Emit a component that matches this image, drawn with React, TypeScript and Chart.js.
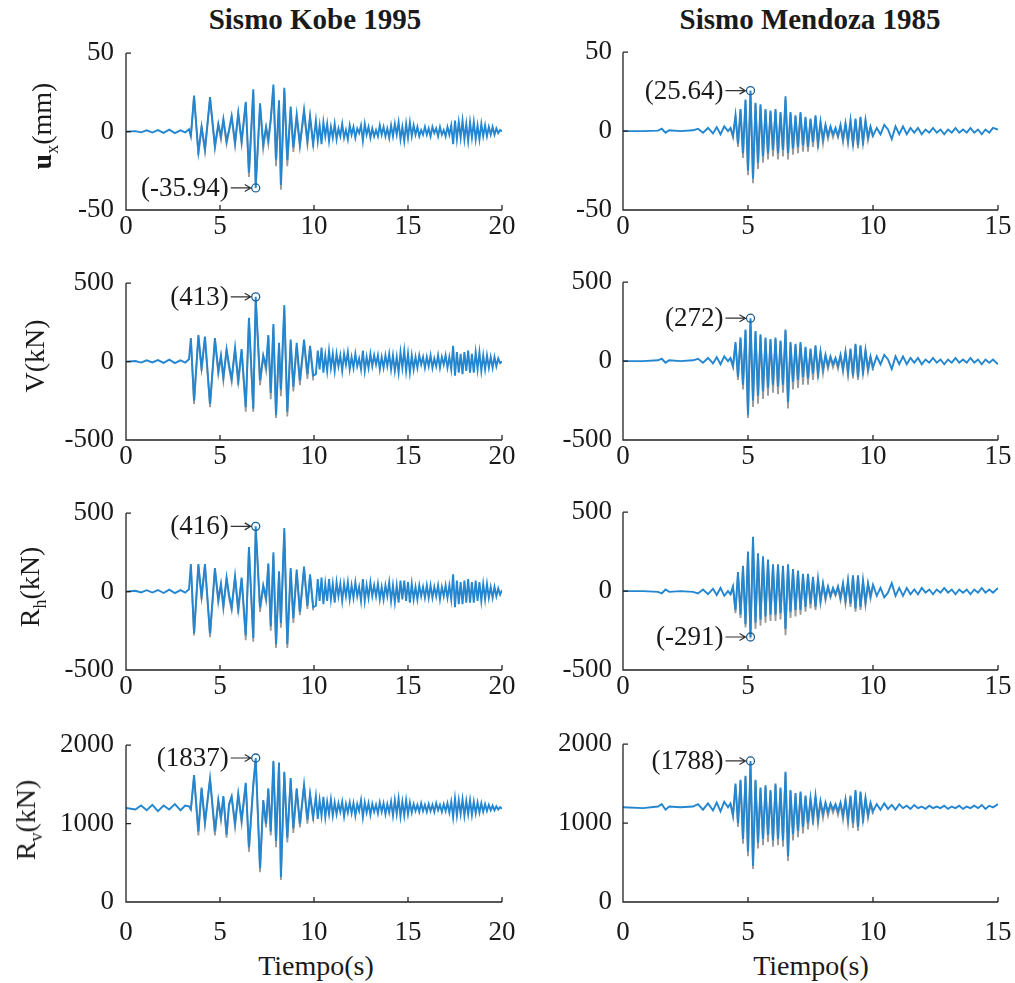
import React, { useEffect, useRef } from 'react';
import { Chart, registerables } from 'chart.js';

Chart.register(...registerables);

// ---------------- DATA ----------------
const xTicksKobe = [0, 5, 10, 15, 20];
const xTicksMendoza = [0, 5, 10, 15];

const kobeTime = [
  0, 0.5, 0.8, 1.1, 1.4, 1.7, 2.0, 2.3, 2.6, 2.9, 3.15, 3.35,
  3.45, 3.62, 3.85, 4.02, 4.2, 4.47, 4.73, 4.91, 5.05, 5.18, 5.35, 5.48, 5.62, 5.8, 5.97, 6.15, 6.37, 6.54, 6.77, 6.9,
  7.13, 7.3, 7.45, 7.57, 7.7, 7.84, 7.98, 8.14, 8.24, 8.42, 8.58, 8.76, 8.9, 9.08, 9.25, 9.47, 9.65, 9.79, 9.96,
  10.1, 10.2, 10.3, 10.4, 10.5, 10.6, 10.7, 10.8, 10.9, 11.0,
  11.1, 11.2, 11.3, 11.4, 11.5, 11.6, 11.7, 11.8, 11.9, 12.0,
  12.1, 12.2, 12.3, 12.4, 12.5, 12.6, 12.7, 12.8, 12.9, 13.0,
  13.1, 13.2, 13.3, 13.4, 13.5, 13.6, 13.7, 13.8, 13.9, 14.0,
  14.1, 14.2, 14.3, 14.4, 14.5, 14.6, 14.7, 14.8, 14.9, 15.0,
  15.1, 15.2, 15.3, 15.4, 15.5, 15.6, 15.7, 15.8, 15.9, 16.0,
  16.1, 16.2, 16.3, 16.4, 16.5, 16.6, 16.7, 16.8, 16.9, 17.0,
  17.1, 17.2, 17.3, 17.4, 17.5, 17.6, 17.7, 17.8, 17.9, 18.0,
  18.1, 18.2, 18.3, 18.4, 18.5, 18.6, 18.7, 18.8, 18.9, 19.0,
  19.1, 19.2, 19.3, 19.4, 19.5, 19.6, 19.7, 19.8, 19.9, 20.0,
];

const kobeUx = [
  0, 0.3, -0.5, 0.8, -0.6, 1.0, -0.8, 1.2, -1.0, 0.8, -0.5, 1.5,
  -3, 23, -13, 3, -11, 22, -9, 5, -3, 8, -6, 1, 10, -7, 12, -6, 19, -26, 27, -35.94,
  18, -8, 3, -5, 8, 30, -18, 20, -34, 28, -18, 16, -10, 11, -8, 14, -6, 10, -8,
  7, -6, 4, -8, 6, -3, 5, -6, 3, -4,
  5, -5, 2, -3, 5, -4, 1, -5, 4, -2,
  3, -4, 2, -1, 4, -6, 5, -2, 3, -4,
  2, -3, 1, -3, 4, -2, 3, -3, 2, -4,
  4, -3, 5, -2, 6, -5, 3, -6, 5, -4,
  6, -3, 4, -2, 3, -3, 1, -2, 3, -2,
  2, -3, 3, -1, 2, -3, 3, -2, 1, -3,
  3, -2, 4, -8, 7, -5, 6, -4, 7, -5,
  5, -6, 6, -4, 6, -5, 4, -5, 5, -3,
  4, -3, 3, -2, 3, -2, 2, -1, 1, 0,
];

const kobeV = [
  0, 4, -6, 8, -5, 10, -8, 12, -10, 8, -6, 15,
  150, -250, 170, -40, 160, -270, 150, -60, 40, -100, 80, -20, -110, 90, -120, 80, -290, 280, -300, 413,
  -120, 40, -30, 170, -200, 240, -340, 120, -180, 360, -320, 140, -160, 120, -120, 140, -80, 100, -90,
  -80, 70, -50, 90, -70, 40, -60, 70, -40, 50,
  -60, 50, -30, 40, -60, 50, -20, 60, -50, 30,
  -40, 50, -30, 20, -50, 70, -60, 30, -40, 50,
  -30, 40, -20, 40, -50, 30, -40, 40, -30, 50,
  -50, 40, -60, 30, -70, 60, -40, 70, -60, 50,
  -70, 40, -50, 30, -40, 40, -20, 30, -40, 30,
  -30, 40, -40, 20, -30, 40, -40, 30, -20, 40,
  -40, 30, -50, 100, -90, 60, -70, 50, -80, 60,
  -60, 70, -70, 50, -70, 60, -50, 60, -60, 40,
  -50, 40, -40, 30, -40, 30, -30, 20, -10, 0,
];

const kobeRh = [
  0, 5, -5, 9, -6, 10, -9, 12, -10, 9, -7, 15,
  175, -266, 175, -30, 175, -266, 150, -50, 50, -90, 90, -20, -100, 100, -110, 90, -280, 284, -296, 416,
  -100, 40, -40, 180, -220, 250, -336, 130, -200, 405, -336, 150, -170, 140, -130, 160, -90, 110, -100,
  -90, 80, -60, 90, -80, 50, -60, 80, -50, 50,
  -70, 60, -30, 50, -60, 50, -30, 60, -50, 40,
  -40, 60, -30, 30, -60, 80, -60, 40, -40, 60,
  -30, 40, -30, 50, -50, 30, -50, 40, -30, 60,
  -60, 40, -70, 40, -70, 70, -50, 70, -60, 60,
  -70, 50, -50, 30, -50, 40, -30, 30, -40, 40,
  -40, 40, -40, 30, -30, 40, -50, 30, -30, 40,
  -40, 40, -50, 110, -100, 70, -80, 60, -80, 70,
  -70, 80, -70, 60, -70, 70, -60, 60, -60, 50,
  -50, 50, -40, 30, -40, 30, -30, 20, -20, 10,
];

const kobeRv = [
  1200, 1180, 1230, 1170, 1240, 1160, 1230, 1180, 1250, 1170, 1230, 1220,
  1180, 1620, 900, 1460, 1020, 1580, 900, 1300, 1080, 1350, 860, 1250, 1350, 1000, 1380, 1050, 1520, 700, 1500, 1837,
  430, 1300, 1000, 1450, 900, 1800, 780, 1780, 320, 1660, 820, 1580, 940, 1450, 1000, 1500, 1050, 1380, 1080,
  1350, 1060, 1300, 1100, 1340, 1080, 1280, 1120, 1310, 1100,
  1270, 1120, 1260, 1150, 1280, 1090, 1250, 1140, 1270, 1130,
  1260, 1100, 1250, 1160, 1300, 1080, 1270, 1140, 1260, 1110,
  1250, 1150, 1240, 1130, 1270, 1150, 1260, 1120, 1250, 1140,
  1280, 1100, 1300, 1120, 1320, 1090, 1280, 1100, 1300, 1120,
  1270, 1140, 1250, 1160, 1240, 1150, 1260, 1160, 1240, 1150,
  1250, 1160, 1240, 1150, 1260, 1170, 1240, 1150, 1250, 1160,
  1260, 1140, 1280, 1080, 1320, 1100, 1300, 1120, 1310, 1100,
  1290, 1120, 1300, 1110, 1280, 1130, 1270, 1140, 1260, 1150,
  1250, 1160, 1240, 1170, 1230, 1170, 1220, 1180, 1210, 1190,
];

// second (gray) response, strong-motion part of the Kobe record
const kobeGrayTime = [
  3.45, 3.62, 3.85, 4.02, 4.2, 4.47, 4.73, 4.91, 5.05, 5.18, 5.35, 5.48, 5.62, 5.8, 5.97, 6.15, 6.37, 6.54, 6.77, 6.9,
  7.13, 7.3, 7.45, 7.57, 7.7, 7.84, 7.98, 8.14, 8.24, 8.42, 8.58, 8.76, 8.9, 9.08, 9.25, 9.47, 9.65, 9.79, 9.96,
];
const kobeGrayUx = [
  -3, 22, -15, 3, -13, 21, -11, 4, -5, 7, -8, 0, 9, -9, 11, -8, 18, -29, 25, -34,
  16, -11, 2, -8, 7, 28, -22, 18, -37, 26, -22, 14, -13, 9, -10, 12, -8, 9, -10,
];
const kobeGrayV = [
  140, -270, 160, -60, 150, -290, 140, -80, 30, -120, 70, -40, -130, 80, -150, 70, -320, 260, -320, 390,
  -150, 30, -60, 160, -240, 220, -360, 100, -220, 330, -350, 120, -190, 100, -150, 120, -110, 90, -120,
];
const kobeGrayRh = [
  165, -280, 165, -50, 165, -290, 140, -70, 40, -110, 80, -40, -120, 90, -140, 80, -310, 270, -320, 395,
  -130, 30, -60, 170, -250, 230, -360, 110, -230, 380, -360, 130, -200, 120, -150, 140, -110, 100, -120,
];
const kobeGrayRv = [
  1170, 1600, 850, 1440, 980, 1560, 850, 1280, 1040, 1330, 820, 1230, 1330, 960, 1360, 1000, 1500, 640, 1480, 1800,
  380, 1280, 950, 1430, 850, 1780, 700, 1760, 280, 1640, 760, 1560, 880, 1430, 950, 1480, 1000, 1360, 1030,
];

const mendozaTime = [
  0, 0.8, 1.4, 1.55, 1.7, 1.85, 2.3, 2.8, 3.0, 3.2, 3.4, 3.6, 3.75, 3.9, 4.05, 4.2,
  4.3, 4.4, 4.5, 4.6, 4.7, 4.8, 4.9, 5.0, 5.1, 5.2, 5.3, 5.4, 5.5, 5.6, 5.7, 5.8, 5.9, 6.0, 6.1, 6.2,
  6.3, 6.4, 6.5, 6.6, 6.7, 6.8, 6.9, 7.0, 7.1, 7.2, 7.3, 7.4, 7.5, 7.6, 7.7, 7.8, 7.9, 8.0, 8.1, 8.2,
  8.3, 8.4, 8.5, 8.6, 8.7, 8.8, 8.9, 9.0, 9.1, 9.2, 9.3, 9.4, 9.5, 9.6, 9.7, 9.8, 9.9, 10.0,
  10.15, 10.3, 10.45, 10.6, 10.75, 10.9, 11.05, 11.2, 11.35, 11.5, 11.65, 11.8, 11.95, 12.1, 12.25, 12.4,
  12.55, 12.7, 12.85, 13.0, 13.15, 13.3, 13.45, 13.6, 13.75, 13.9, 14.05, 14.2, 14.35, 14.5, 14.65, 14.8, 15.0,
];

const mendozaUx = [
  0, 0, 0.3, 1.5, -1, 0.5, 0, 0.5, 1.5, -1, 2, -1.5, 2.5, -2, 3, 0,
  2, -3, 10, -8, 14, -14, 20, -25, 25.64, -30, 18, -20, 17, -16, 14, -14, 13, -12, 14, -14,
  12, -12, 22, -14, 12, -11, 10, -10, 12, -9, 9, -10, 8, -7, 10, -8, 6, -5, 4, -3,
  3, -2, 2, -3, 4, -5, 5, -6, 7, -8, 8, -9, 9, -7, 7, -4, 3, -3,
  2, -2, 4, 1, -5, 3, -2, 3, -2, 2, -1, 2, -2, 1, -1, 2,
  -1, 1, -2, 1, -1, 2, -1, 1, -1, 2, -1, 1, -2, 1, -1, 2, 1,
];

const mendozaV = [
  0, 0, 5, 15, -10, 5, 0, 5, 15, -10, 20, -15, 25, -20, 30, 0,
  20, -30, 120, -100, 150, -150, 200, -340, 272, -250, 190, -220, 170, -190, 150, -170, 140, -150, 150, -160,
  130, -150, 200, -260, 120, -130, 110, -120, 120, -100, 90, -110, 80, -80, 100, -80, 60, -50, 40, -30,
  30, -20, 20, -30, 40, -50, 60, -70, 80, -90, 110, -100, 100, -70, 70, -50, 30, -40,
  30, -20, 40, 10, -50, 30, -20, 30, -20, 20, -10, 20, -20, 10, -10, 20,
  -10, 10, -20, 10, -10, 20, -10, 10, -10, 20, -10, 10, -20, 10, -10, 10, -20,
];

const mendozaRh = [
  0, 0, -5, -15, 10, -5, 0, -5, -15, 10, -20, 15, -25, 20, -30, 0,
  -20, 30, -120, 120, -150, 160, -210, 250, -291, 344, -200, 240, -180, 220, -160, 200, -150, 170, -150, 170,
  -140, 160, -240, 170, -130, 140, -120, 130, -120, 110, -100, 110, -80, 90, -100, 80, -60, 50, -40, 30,
  -30, 20, -20, 30, -40, 50, -60, 70, -80, 100, -110, 100, -100, 70, -70, 50, -30, 40,
  -30, 20, -40, -10, 50, -30, 20, -30, 20, -20, 10, -20, 20, -10, 10, -20,
  10, -10, 20, -10, 10, -20, 10, -10, 10, -20, 10, -10, 20, -10, 10, -10, 20,
];

const mendozaRv = [
  1200, 1190, 1210, 1240, 1170, 1210, 1200, 1210, 1240, 1170, 1250, 1160, 1260, 1150, 1270, 1200,
  1250, 1100, 1500, 1000, 1550, 800, 1600, 640, 1788, 460, 1550, 750, 1450, 800, 1480, 850, 1420, 780, 1500, 800,
  1450, 780, 1650, 580, 1420, 860, 1380, 900, 1400, 950, 1350, 1000, 1320, 1050, 1350, 1050, 1280, 1120, 1260, 1140,
  1250, 1170, 1240, 1150, 1260, 1100, 1300, 1050, 1350, 1000, 1420, 950, 1400, 1050, 1320, 1100, 1260, 1150,
  1240, 1170, 1250, 1180, 1230, 1170, 1240, 1190, 1220, 1180, 1230, 1190, 1210, 1180, 1220, 1190,
  1210, 1190, 1220, 1180, 1210, 1190, 1220, 1180, 1210, 1190, 1220, 1190, 1230, 1180, 1220, 1200, 1240,
];

const mendozaGrayTime = [
  4.3, 4.4, 4.5, 4.6, 4.7, 4.8, 4.9, 5.0, 5.1, 5.2, 5.3, 5.4, 5.5, 5.6, 5.7, 5.8, 5.9, 6.0, 6.1, 6.2,
  6.3, 6.4, 6.5, 6.6, 6.7, 6.8, 6.9, 7.0, 7.1, 7.2, 7.3, 7.4, 7.5, 7.6, 7.7, 7.8, 7.9, 8.0, 8.1, 8.2,
  8.3, 8.4, 8.5, 8.6, 8.7, 8.8, 8.9, 9.0, 9.1, 9.2, 9.3, 9.4, 9.5, 9.6, 9.7, 9.8, 9.9, 10.0,
];
const mendozaGrayUx = [
  2, -4, 9, -10, 13, -17, 19, -28, 24, -33, 17, -24, 16, -20, 13, -18, 12, -16, 13, -18,
  11, -16, 20, -18, 11, -15, 9, -14, 11, -13, 8, -13, 7, -10, 9, -11, 5, -8, 3, -5,
  2, -4, 1, -4, 3, -7, 4, -8, 6, -10, 7, -11, 8, -9, 6, -6, 2, -4,
];
const mendozaGrayV = [
  15, -40, 110, -120, 140, -180, 190, -360, 260, -290, 180, -270, 160, -240, 140, -220, 130, -200, 140, -210,
  120, -200, 190, -300, 110, -180, 100, -170, 110, -150, 80, -150, 70, -120, 90, -110, 50, -80, 30, -50,
  20, -40, 10, -50, 30, -70, 50, -90, 70, -110, 100, -120, 90, -90, 60, -70, 20, -60,
];
const mendozaGrayRh = [
  -25, 25, -140, 110, -170, 150, -230, 240, -300, 330, -240, 230, -220, 210, -200, 190, -190, 160, -190, 160,
  -180, 150, -280, 160, -170, 130, -160, 120, -150, 100, -130, 100, -110, 80, -120, 70, -80, 40, -60, 20,
  -40, 10, -30, 20, -60, 40, -80, 60, -100, 90, -130, 90, -120, 60, -90, 40, -50, 30,
];
const mendozaGrayRv = [
  1240, 1080, 1480, 950, 1530, 740, 1580, 580, 1760, 420, 1530, 680, 1430, 720, 1460, 760, 1400, 700, 1480, 720,
  1430, 700, 1630, 520, 1400, 780, 1360, 820, 1380, 870, 1330, 920, 1300, 980, 1330, 990, 1260, 1060, 1240, 1090,
  1230, 1130, 1220, 1100, 1240, 1040, 1280, 990, 1330, 940, 1400, 900, 1380, 1000, 1300, 1060, 1240, 1110,
];

// peak values marked with data tips
const kobePeakTime = 6.9;
const kobePeaks = [-35.94, 413, 416, 1837];
const mendozaPeakTime = 5.1;
const mendozaPeaks = [25.64, 272, -291, 1788];

// y-axis ranges per row: [min, max, step]
const yRanges = [
  [-50, 50, 50],
  [-500, 500, 500],
  [-500, 500, 500],
  [0, 2000, 1000],
];

// ---------------- LAYOUT / STYLE ----------------
const FONT = '"Liberation Serif", "Times New Roman", serif';
const TEXT = '#1a1a1a';
const BLUE = '#2386d0';
const GRAY = '#999999';
const rowTops = [43, 273, 503, 735];
const PLOT_H = 167;
const AXW = 86;
const PT = 18;
const XH = 48;
const RIGHT_PAD = 32;
const TICK_SIZE = 27;

type PanelProps = {
  px: number;
  pw: number;
  py: number;
  yLabelPad: number;
  xLabelPad: number;
  xMax: number;
  xTicks: number[];
  yMin: number;
  yMax: number;
  yStep: number;
  time: number[];
  values: number[];
  grayTime: number[];
  gray: number[];
  peakT: number;
  peakV: number;
};

function Panel(p: PanelProps) {
  const ref = useRef<HTMLCanvasElement | null>(null);
  const cw = AXW + p.pw + RIGHT_PAD;
  const ch = PT + PLOT_H + XH;

  useEffect(() => {
    if (!ref.current) return;
    const label = '(' + String(p.peakV) + ')';
    const axesPlugin = {
      id: 'matlabAxes',
      afterDraw(chart: any) {
        const { ctx, chartArea: a, scales } = chart;
        const xs = scales.x;
        const ys = scales.y;
        ctx.save();
        ctx.strokeStyle = '#222';
        ctx.lineWidth = 1.3;
        ctx.beginPath();
        ctx.moveTo(a.left, a.top);
        ctx.lineTo(a.left, a.bottom);
        ctx.lineTo(a.right, a.bottom);
        xs.ticks.forEach((t: any) => {
          const x = xs.getPixelForValue(t.value);
          ctx.moveTo(x, a.bottom);
          ctx.lineTo(x, a.bottom - 5);
        });
        ys.ticks.forEach((t: any) => {
          const y = ys.getPixelForValue(t.value);
          ctx.moveTo(a.left, y);
          ctx.lineTo(a.left + 5, y);
        });
        ctx.stroke();

        // data tip label with arrow
        const pt = chart.getDatasetMeta(0).data[0];
        if (pt) {
          const mx = pt.x;
          const my = pt.y;
          ctx.strokeStyle = '#333';
          ctx.lineWidth = 1.2;
          ctx.beginPath();
          ctx.moveTo(mx - 25, my);
          ctx.lineTo(mx - 5, my);
          ctx.moveTo(mx - 11, my - 3.5);
          ctx.lineTo(mx - 5, my);
          ctx.lineTo(mx - 11, my + 3.5);
          ctx.stroke();
          ctx.fillStyle = TEXT;
          ctx.font = TICK_SIZE + 'px ' + FONT;
          ctx.textAlign = 'right';
          ctx.textBaseline = 'middle';
          ctx.fillText(label, mx - 27, my + 1);
        }
        ctx.restore();
      },
    };

    const chart = new Chart(ref.current, {
      type: 'line',
      data: {
        datasets: [
          {
            label: 'peak',
            data: [{ x: p.peakT, y: p.peakV }],
            showLine: false,
            pointRadius: 4,
            pointStyle: 'circle',
            borderColor: '#1d5f96',
            backgroundColor: 'rgba(0,0,0,0)',
            pointBorderWidth: 1.3,
          },
          {
            label: 'response',
            data: p.time.map((t, i) => ({ x: t, y: p.values[i] })),
            borderColor: BLUE,
            borderWidth: 1.9,
            pointRadius: 0,
            tension: 0,
            fill: false,
          },
          {
            label: 'reference',
            data: p.grayTime.map((t, i) => ({ x: t, y: p.gray[i] })),
            borderColor: GRAY,
            borderWidth: 1.8,
            pointRadius: 0,
            tension: 0,
            fill: false,
          },
        ],
      } as any,
      options: {
        responsive: false,
        animation: false,
        devicePixelRatio: 1,
        events: [],
        layout: { padding: { left: 0, top: PT, right: RIGHT_PAD, bottom: 0 } },
        plugins: { legend: { display: false }, tooltip: { enabled: false }, title: { display: false } },
        scales: {
          x: {
            type: 'linear',
            min: 0,
            max: p.xMax,
            grid: { display: false, drawTicks: false },
            border: { display: false },
            afterBuildTicks: (s: any) => {
              s.ticks = p.xTicks.map((v) => ({ value: v }));
            },
            ticks: {
              padding: p.xLabelPad,
              color: TEXT,
              font: { family: FONT, size: TICK_SIZE },
              maxRotation: 0,
              autoSkip: false,
              callback: (v: any) => String(v),
            },
            afterFit: (s: any) => {
              s.height = XH;
            },
          },
          y: {
            type: 'linear',
            min: p.yMin,
            max: p.yMax,
            grid: { display: false, drawTicks: false },
            border: { display: false },
            ticks: {
              stepSize: p.yStep,
              padding: p.yLabelPad,
              color: TEXT,
              font: { family: FONT, size: TICK_SIZE },
              autoSkip: false,
              callback: (v: any) => String(v),
            },
            afterFit: (s: any) => {
              s.width = AXW;
            },
          },
        },
      } as any,
      plugins: [axesPlugin],
    });
    return () => chart.destroy();
  }, []);

  return (
    <canvas
      ref={ref}
      width={cw}
      height={ch}
      style={{ position: 'absolute', left: p.px - AXW, top: p.py - PT, width: cw, height: ch }}
    />
  );
}

const kobeSeries = [kobeUx, kobeV, kobeRh, kobeRv];
const kobeGray = [kobeGrayUx, kobeGrayV, kobeGrayRh, kobeGrayRv];
const mendozaSeries = [mendozaUx, mendozaV, mendozaRh, mendozaRv];
const mendozaGray = [mendozaGrayUx, mendozaGrayV, mendozaGrayRh, mendozaGrayRv];

function YTitle(props: { cx: number; cy: number; main: React.ReactNode; sub?: string; unit: string; boldMain?: boolean }) {
  return (
    <div
      style={{
        position: 'absolute',
        left: props.cx,
        top: props.cy,
        transform: 'translate(-50%, -50%) rotate(-90deg)',
        whiteSpace: 'nowrap',
        fontSize: 28,
        lineHeight: '28px',
        fontFamily: FONT,
        color: TEXT,
      }}
    >
      <span style={{ fontWeight: props.boldMain ? 'bold' : 'normal' }}>{props.main}</span>
      {props.sub ? <sub style={{ fontSize: 18, lineHeight: 0 }}>{props.sub}</sub> : null}
      {props.unit}
    </div>
  );
}

export default function App() {
  const textStyle = (cx: number, cy: number, size: number, bold: boolean): React.CSSProperties => ({
    position: 'absolute',
    left: cx,
    top: cy,
    transform: 'translate(-50%, -50%)',
    whiteSpace: 'nowrap',
    fontFamily: FONT,
    fontSize: size,
    fontWeight: bold ? 'bold' : 'normal',
    color: TEXT,
    lineHeight: 1,
  });

  return (
    <div
      style={{
        position: 'absolute',
        left: 0,
        top: 0,
        width: 1015,
        height: 983,
        overflow: 'hidden',
        background: '#fff',
      }}
    >
      <div style={textStyle(315, 19, 29, true)}>Sismo Kobe 1995</div>
      <div style={textStyle(810, 19, 29, true)}>Sismo Mendoza 1985</div>

      {rowTops.map((top, r) => (
        <Panel
          key={'k' + r}
          px={126}
          pw={376}
          py={top}
          yLabelPad={12}
          xLabelPad={r === 3 ? 15 : 1}
          xMax={20}
          xTicks={xTicksKobe}
          yMin={yRanges[r][0]}
          yMax={yRanges[r][1]}
          yStep={yRanges[r][2]}
          time={kobeTime}
          values={kobeSeries[r]}
          grayTime={kobeGrayTime}
          gray={kobeGray[r]}
          peakT={kobePeakTime}
          peakV={kobePeaks[r]}
        />
      ))}
      {rowTops.map((top, r) => (
        <Panel
          key={'m' + r}
          px={623}
          pw={375}
          py={top}
          yLabelPad={11}
          xLabelPad={r === 3 ? 15 : 1}
          xMax={15}
          xTicks={xTicksMendoza}
          yMin={yRanges[r][0]}
          yMax={yRanges[r][1]}
          yStep={yRanges[r][2]}
          time={mendozaTime}
          values={mendozaSeries[r]}
          grayTime={mendozaGrayTime}
          gray={mendozaGray[r]}
          peakT={mendozaPeakTime}
          peakV={mendozaPeaks[r]}
        />
      ))}

      <YTitle cx={42} cy={126} main="u" boldMain sub="x" unit="(mm)" />
      <YTitle cx={35} cy={356} main="V" unit="(kN)" />
      <YTitle cx={30} cy={587} main="R" sub="h" unit="(kN)" />
      <YTitle cx={26} cy={820} main="R" sub="v" unit="(kN)" />

      <div style={textStyle(316, 966, 28, false)}>Tiempo(s)</div>
      <div style={textStyle(811, 966, 28, false)}>Tiempo(s)</div>
    </div>
  );
}
